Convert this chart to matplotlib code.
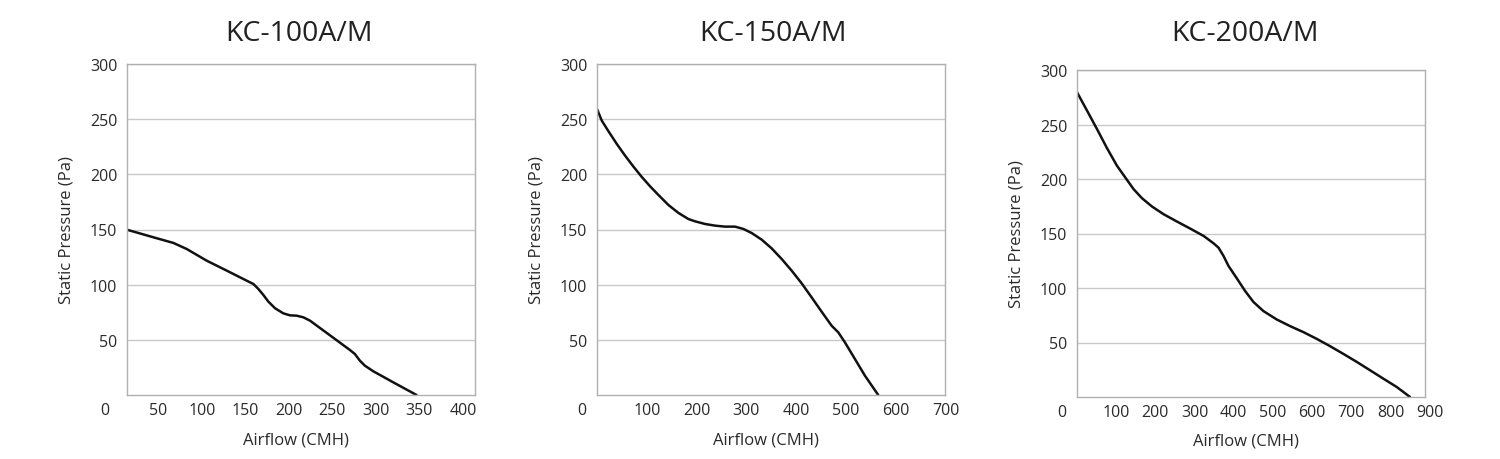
import numpy as np
import matplotlib
matplotlib.use('Agg')
import matplotlib.pyplot as plt
import matplotlib.transforms as mtrans

plt.rcParams['font.family'] = ['Open Sans', 'DejaVu Sans']

# ---- data ----
titles = ['KC-100A/M', 'KC-150A/M', 'KC-200A/M']

flow_100 = [14, 44.5, 67.4, 82.7, 105.7, 128.7, 151.6, 159.3, 165, 170.8, 176.5,
            184.2, 193.7, 201.4, 209, 216.7, 224.3, 247.3, 270.2, 275.9, 281.7,
            287.4, 297.1, 320, 346.8]
pres_100 = [149.8, 142.9, 137.8, 132.3, 121.7, 112.7, 103.6, 100.6, 96.1, 90.6,
            84.6, 78.6, 74, 72.2, 71.9, 70.4, 67.4, 54.1, 40.8, 37.2, 31.1,
            26.6, 21.5, 11.5, 0]

flow_150 = [0, 9.7, 23.1, 39.8, 56.5, 73.2, 90, 106.7, 123.4, 143.5, 163.6, 183.6,
            197, 217.1, 237.1, 257.2, 277.3, 294, 310.7, 330.8, 350.8, 370.9,
            391, 411.1, 431.1, 451.2, 471.3, 484.6, 498, 518.1, 538.2, 564.9]
pres_150 = [259.2, 248.6, 239, 227.5, 216.9, 207, 197.6, 189.1, 181.3, 172.2, 165,
            159.5, 157.4, 155, 153.5, 152.6, 152.6, 150.5, 146.8, 140.8, 132.9,
            123.3, 112.7, 101.2, 88.5, 75.5, 62.8, 56.8, 47.7, 32.6, 17.5, 0]

flow_200 = [0, 25.5, 50.9, 76.4, 101.9, 123.2, 144.4, 165.7, 191.2, 220.9, 254.9,
            288.9, 322.9, 348.4, 361.1, 373.9, 386.6, 407.9, 429.1, 450.4, 475.8,
            509.8, 543.9, 577.9, 611.9, 645.9, 679.9, 713.9, 747.9, 781.8, 815.8,
            849.8]
pres_200 = [279.6, 262.8, 245.9, 228.4, 212.2, 201.4, 190.7, 182.4, 174.8, 167.7,
            161, 154.5, 147.8, 141, 137, 129.4, 120.2, 108.8, 97.2, 87.1, 78.8,
            71.1, 65, 59.5, 53.3, 46.6, 39.5, 32.2, 24.5, 16.8, 9.2, 0]

xtick_100 = [50, 100, 150, 200, 250, 300, 350, 400]
xtick_150 = [100, 200, 300, 400, 500, 600, 700]
xtick_200 = [100, 200, 300, 400, 500, 600, 700, 800, 900]
yticks = [50, 100, 150, 200, 250, 300]

panels = [
    (flow_100, pres_100, xtick_100, (14, 414)),
    (flow_150, pres_150, xtick_150, (0, 699)),
    (flow_200, pres_200, xtick_200, (0, 888)),
]

# axes boxes in pixels (left, right, top, bottom) on a 1500x460 canvas
boxes = [(127, 475, 65, 396), (597, 945, 65, 396), (1077, 1425, 71, 398)]
title_x = [299, 773, 1245]

W, H = 1500, 460
fig = plt.figure(figsize=(15, 4.6), dpi=100)
txt = '#2a2a2a'

for (fx, py, xt, xl), (l, r, t, b), title, tx in zip(panels, boxes, titles, title_x):
    ax = fig.add_axes([l / W, 1 - b / H, (r - l) / W, (b - t) / H])
    ax.plot(fx, py, color='#111111', lw=1.8, solid_joinstyle='round',
            solid_capstyle='round')
    ax.set_xlim(*xl)
    ax.set_ylim(0, 300)
    ax.set_yticks(yticks)
    ax.set_xticks([])
    ax.yaxis.grid(True, color='#c8c8c8', lw=1)
    ax.set_axisbelow(True)
    for s in ax.spines.values():
        s.set_color('#b0b0b0')
        s.set_linewidth(1)
    ax.tick_params(axis='y', length=0, pad=7, labelsize=11.5, labelcolor=txt)

    # x tick labels drawn as text so labels beyond the axis limits also show
    trans = mtrans.blended_transform_factory(ax.transData, ax.transAxes)
    for v in xt:
        ax.text(v, -0.045, str(v), transform=trans, ha='center', va='center',
                fontsize=11.5, color=txt, clip_on=False)
    off = mtrans.offset_copy(trans, fig=fig, x=-15, units='dots')
    ax.text(0 if xl[0] <= 0 else xl[0] - 8, -0.045, '0', transform=off,
            ha='center', va='center', fontsize=11.5, color=txt, clip_on=False)

    # titles all sit on the same line even though the 3rd box is lower
    fig.text(tx / W, 1 - 34 / H, title, fontsize=20.5, color='#222222',
             ha='center', va='center')
    ax.set_xlabel('Airflow (CMH)', fontsize=12, color=txt)
    ax.xaxis.set_label_coords(0.485, -0.11)
    ax.set_ylabel('Static Pressure (Pa)', fontsize=12, color=txt)
    ax.yaxis.set_label_coords(-0.15, 0.5)

fig.savefig('out.png', dpi=100, facecolor='white')
